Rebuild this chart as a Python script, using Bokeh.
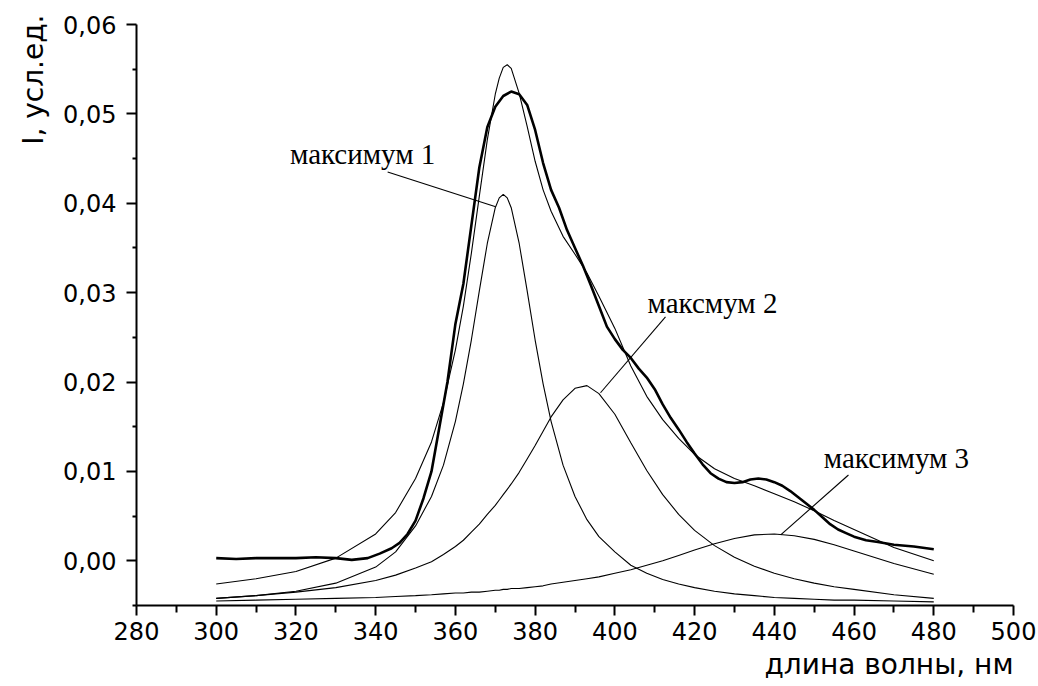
from bokeh.plotting import figure
from bokeh.models import Range1d, FixedTicker, CustomJSTickFormatter, Title
from bokeh.core.properties import value
from bokeh.embed import file_html
from bokeh.resources import INLINE

# ---------------- data ----------------
# wavelength grid of the fitted curves (nm)
fit_wavelength = [300, 310, 320, 330, 340, 345, 350, 354, 357, 360, 362, 364, 366, 368,
                  370, 371, 372, 373, 374, 376, 378, 380, 382, 384, 387, 390, 393, 396,
                  400, 404, 408, 412, 416, 420, 425, 430, 435, 440, 445, 450, 455, 460,
                  470, 480]

# cumulative fit (thin envelope)
fit_sum = [-0.0026, -0.0020, -0.0012, 0.0003, 0.0030, 0.0054, 0.0092, 0.0133, 0.0177,
           0.0236, 0.0285, 0.0344, 0.0408, 0.0471, 0.0522, 0.0540, 0.0552, 0.0555,
           0.0551, 0.0523, 0.0486, 0.0447, 0.0415, 0.0391, 0.0363, 0.0343, 0.0322,
           0.0296, 0.0260, 0.0218, 0.0184, 0.0158, 0.0137, 0.0119, 0.0103, 0.0092,
           0.0084, 0.0075, 0.0066, 0.0056, 0.0045, 0.0035, 0.0015, 0.0000]

# peak components
peak1 = [-0.0042, -0.0039, -0.0034, -0.0025, -0.0007, 0.0010, 0.0039, 0.0072, 0.0107,
         0.0156, 0.0198, 0.0247, 0.0302, 0.0355, 0.0395, 0.0406, 0.0410, 0.0406, 0.0395,
         0.0355, 0.0302, 0.0247, 0.0198, 0.0156, 0.0107, 0.0072, 0.0046, 0.0027, 0.0010,
         -0.0005, -0.0014, -0.0021, -0.0026, -0.0030, -0.0034, -0.0037, -0.0039,
         -0.0041, -0.0042, -0.0043, -0.0044, -0.0044, -0.0045, -0.0046]

peak2 = [-0.0042, -0.0039, -0.0035, -0.0030, -0.0022, -0.0016, -0.0008, -0.0001, 0.0007,
         0.0016, 0.0023, 0.0032, 0.0041, 0.0052, 0.0062, 0.0068, 0.0074, 0.0080, 0.0086,
         0.0099, 0.0114, 0.0129, 0.0145, 0.0161, 0.0180, 0.0193, 0.0196, 0.0187, 0.0164,
         0.0132, 0.0101, 0.0074, 0.0052, 0.0034, 0.0017, 0.0004, -0.0006, -0.0014,
         -0.0020, -0.0025, -0.0029, -0.0032, -0.0038, -0.0042]

peak3 = [-0.0045, -0.0044, -0.0043, -0.0042, -0.0041, -0.0040, -0.0039, -0.0038, -0.0037,
         -0.0036, -0.0036, -0.0035, -0.0035, -0.0034, -0.0033, -0.0033, -0.0032, -0.0032,
         -0.0031, -0.0031, -0.0030, -0.0029, -0.0028, -0.0026, -0.0024, -0.0022, -0.0020,
         -0.0018, -0.0014, -0.0010, -0.0005, 0.0000, 0.0006, 0.0012, 0.0019, 0.0025,
         0.0029, 0.0030, 0.0028, 0.0024, 0.0018, 0.0011, -0.0003, -0.0015]

# measured spectrum (thick curve)
exp_wavelength = [300, 305, 310, 315, 320, 325, 330, 334, 338, 341, 344, 346, 348, 350,
                  352, 354, 356, 358, 360, 362, 364, 366, 368, 370, 372, 374, 376, 378,
                  380, 382, 384, 386, 388, 390, 392, 394, 396, 398, 400, 402, 404, 406,
                  408, 410, 412, 414, 416, 418, 420, 422, 424, 426, 428, 430, 432, 434,
                  436, 438, 440, 442, 444, 446, 448, 450, 452, 454, 456, 458, 460, 463,
                  466, 470, 475, 480]
exp_intensity = [0.0003, 0.0002, 0.0003, 0.0003, 0.0003, 0.0004, 0.0003, 0.0001, 0.0003,
                 0.0008, 0.0014, 0.0020, 0.0030, 0.0045, 0.0070, 0.0100, 0.0150, 0.0200,
                 0.0265, 0.0310, 0.0375, 0.0440, 0.0485, 0.0508, 0.0520, 0.0525, 0.0522,
                 0.0510, 0.0482, 0.0445, 0.0415, 0.0395, 0.0370, 0.0350, 0.0330, 0.0308,
                 0.0285, 0.0262, 0.0248, 0.0236, 0.0227, 0.0215, 0.0205, 0.0192, 0.0175,
                 0.0160, 0.0147, 0.0133, 0.0120, 0.0108, 0.0098, 0.0092, 0.0088, 0.0087,
                 0.0088, 0.0091, 0.0092, 0.0091, 0.0088, 0.0084, 0.0078, 0.0071, 0.0064,
                 0.0057, 0.0049, 0.0041, 0.0035, 0.0031, 0.0027, 0.0023, 0.0021, 0.0018,
                 0.0016, 0.0013]

# axes
x_ticks = [280, 300, 320, 340, 360, 380, 400, 420, 440, 460, 480, 500]
x_minor_ticks = [290, 310, 330, 350, 370, 390, 410, 430, 450, 470, 490]
y_ticks = [0.00, 0.01, 0.02, 0.03, 0.04, 0.05, 0.06]
y_minor_ticks = [-0.005, 0.005, 0.015, 0.025, 0.035, 0.045, 0.055]
x_title = "длина волны, нм"
y_title = "I, усл.ед."

# annotations: label text, label anchor, pointer start, pointer end
ann_text = ["максимум 1", "максмум 2", "максимум 3"]
ann_text_x = [318.5, 408.2, 452.4]
ann_text_y = [0.0455, 0.0288, 0.0115]
ann_from_x = [343.0, 412.7, 458.6]
ann_from_y = [0.0435, 0.0273, 0.0096]
ann_to_x = [370.1, 396.4, 441.6]
ann_to_y = [0.0396, 0.0188, 0.0029]

# ---------------- figure ----------------
SANS = "DejaVu Sans"
SERIF = "Liberation Serif"

p = figure(width=1038, height=686, output_backend="svg", toolbar_location=None,
           x_range=Range1d(280, 500), y_range=Range1d(-0.005, 0.06),
           min_border_left=136, min_border_right=25, min_border_top=24,
           min_border_bottom=81)
p.outline_line_color = None
p.xgrid.visible = False
p.ygrid.visible = False
p.background_fill_color = "white"
p.border_fill_color = "white"

for ax in (p.xaxis[0], p.yaxis[0]):
    ax.axis_line_width = 2
    ax.axis_line_color = "black"
    ax.major_tick_line_width = 2
    ax.minor_tick_line_width = 2
    ax.major_tick_line_color = "black"
    ax.minor_tick_line_color = "black"
    ax.major_tick_in = 0
    ax.minor_tick_in = 0
    ax.major_tick_out = 10
    ax.major_label_text_font = SANS
    ax.major_label_text_font_size = "24px"
    ax.major_label_text_color = "black"

p.xaxis[0].ticker = FixedTicker(ticks=x_ticks, minor_ticks=x_minor_ticks)
p.xaxis[0].minor_tick_out = 7
p.xaxis[0].major_label_standoff = 6

p.yaxis[0].ticker = FixedTicker(ticks=y_ticks, minor_ticks=y_minor_ticks)
p.yaxis[0].minor_tick_out = 4
p.yaxis[0].major_label_standoff = 10
p.yaxis[0].formatter = CustomJSTickFormatter(
    code="return tick.toFixed(2).replace('.', ',');")

# axis titles at the top-left and bottom-right ends, as in the reference
p.add_layout(Title(text=y_title, align="right", vertical_align="top", offset=-10,
                   padding=0, text_font=SANS, text_font_size="28px",
                   text_font_style="normal", text_color="black", standoff=18), "left")
p.add_layout(Title(text=x_title, align="right", text_font=SANS, text_font_size="28px",
                   text_font_style="normal", text_color="black", standoff=7), "below")

# component curves
for series in (peak1, peak2, peak3, fit_sum):
    p.line(fit_wavelength, series, line_color="black", line_width=1.1)

# measured spectrum
p.line(exp_wavelength, exp_intensity, line_color="black", line_width=2.6)

# annotations
p.segment(x0=ann_from_x, y0=ann_from_y, x1=ann_to_x, y1=ann_to_y,
          line_color="black", line_width=1.1)
p.text(x=ann_text_x, y=ann_text_y, text=ann_text, text_font=value(SERIF),
       text_font_size=value("29px"), text_align="left", text_baseline="alphabetic",
       text_color="black")

open("out.html", "w").write(file_html(p, INLINE))
